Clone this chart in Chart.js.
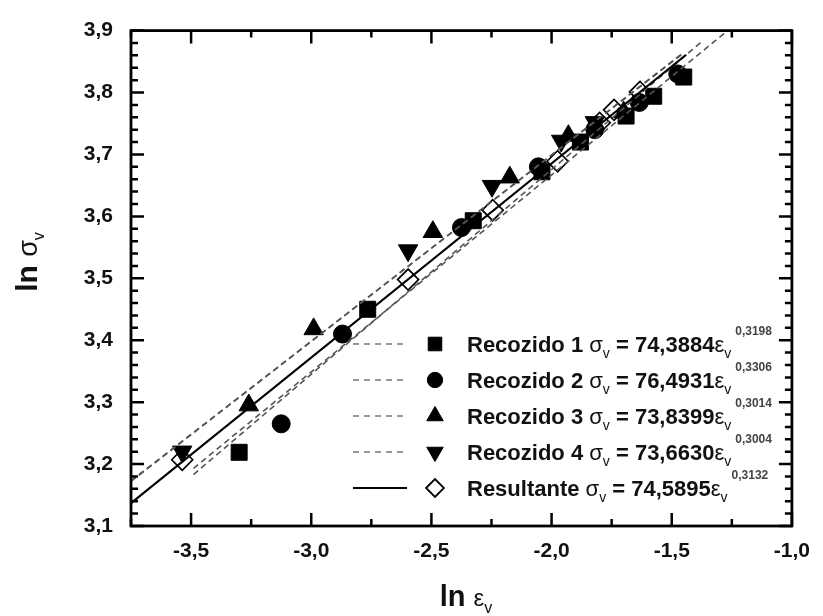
<!DOCTYPE html>
<html><head><meta charset="utf-8">
<script src="https://cdn.jsdelivr.net/npm/chart.js@4.4.1/dist/chart.umd.min.js"></script>
<style>html,body{margin:0;padding:0;background:#fff}canvas{display:block}</style>
</head><body>
<canvas id="c" width="823" height="616"></canvas>
<script>
// ---- data ----
const seriesNames = ['Recozido 1', 'Recozido 2', 'Recozido 3', 'Recozido 4', 'Resultante'];
const coefficients = ['74,3884', '76,4931', '73,8399', '73,6630', '74,5895'];
const exponents = ['0,3198', '0,3306', '0,3014', '0,3004', '0,3132'];

const rec1X = [-3.30, -2.765, -2.326, -2.04, -1.88, -1.69, -1.575, -1.45];
const rec1Y = [3.219, 3.450, 3.593, 3.672, 3.720, 3.762, 3.794, 3.825];
const rec2X = [-3.125, -2.87, -2.375, -2.055, -1.82, -1.635, -1.475];
const rec2Y = [3.265, 3.410, 3.582, 3.680, 3.740, 3.784, 3.830];
const rec3X = [-3.26, -2.99, -2.494, -2.174, -1.93, -1.70];
const rec3Y = [3.295, 3.418, 3.575, 3.663, 3.730, 3.768];
const rec4X = [-3.537, -2.597, -2.248, -1.96, -1.82];
const rec4Y = [3.220, 3.545, 3.649, 3.722, 3.752];
const resX = [-3.537, -2.597, -2.245, -1.975, -1.80, -1.74, -1.632];
const resY = [3.207, 3.498, 3.610, 3.689, 3.751, 3.772, 3.801];

// fitted lines (end points)
const fit1X = [-3.49, -1.28], fit1Y = [3.193, 3.896];
const fit2X = [-3.49, -1.37], fit2Y = [3.183, 3.884];
const fit3X = [-3.75, -1.45], fit3Y = [3.172, 3.865];
const fit4X = [-3.75, -1.45], fit4Y = [3.173, 3.864];
const fitResX = [-3.75, -1.44], fitResY = [3.137, 3.861];

const xTickValues = [-3.5, -3.0, -2.5, -2.0, -1.5, -1.0];
const xTickLabels = ['-3,5', '-3,0', '-2,5', '-2,0', '-1,5', '-1,0'];
const yTickValues = [3.1, 3.2, 3.3, 3.4, 3.5, 3.6, 3.7, 3.8, 3.9];
const yTickLabels = ['3,1', '3,2', '3,3', '3,4', '3,5', '3,6', '3,7', '3,8', '3,9'];

// ---- helpers ----
const pts = (xs, ys) => xs.map((v, i) => ({x: v, y: ys[i]}));
const F = 'Liberation Sans, Arial, sans-serif';

const lineDs = (xs, ys, dashed) => ({
  data: pts(xs, ys), showLine: true, pointRadius: 0, pointHoverRadius: 0,
  borderColor: dashed ? '#555' : '#000', borderWidth: dashed ? 1.6 : 2.2,
  borderDash: dashed ? [6, 4] : [], fill: false, tension: 0
});
const ptDs = (xs, ys, style, r, rot, open) => ({
  data: pts(xs, ys), showLine: false, pointStyle: style, pointRadius: r,
  pointHoverRadius: r, pointRotation: rot || 0,
  backgroundColor: open ? 'rgba(255,255,255,0)' : '#000',
  borderColor: '#000', borderWidth: open ? 1.7 : 1
});

const markerDefs = [
  {style: 'rect', r: 11.3, rot: 0, open: false},
  {style: 'circle', r: 9, rot: 0, open: false},
  {style: 'triangle', r: 11.2, rot: 0, open: false},
  {style: 'triangle', r: 11.2, rot: 180, open: false},
  {style: 'rectRot', r: 10.5, rot: 0, open: true}
];

// ---- plugin: frame with inward ticks ----
const frameTicks = {
  id: 'frameTicks',
  afterDraw(chart) {
    const {ctx, chartArea: a, scales: {x, y}} = chart;
    ctx.save();
    ctx.strokeStyle = '#000';
    ctx.lineWidth = 2.5;
    ctx.beginPath();
    for (let k = 0; k <= 11; k++) {
      const v = -3.75 + k * 0.25;
      const px = x.getPixelForValue(v);
      const L = (k % 2 === 1) ? 13 : 7;
      ctx.moveTo(px, a.bottom); ctx.lineTo(px, a.bottom - L);
      ctx.moveTo(px, a.top); ctx.lineTo(px, a.top + L);
    }
    for (let k = 0; k <= 40; k++) {
      const v = 3.1 + k * 0.02;
      const py = y.getPixelForValue(v);
      const L = (k % 5 === 0) ? 13 : 7;
      ctx.moveTo(a.left, py); ctx.lineTo(a.left + L, py);
      ctx.moveTo(a.right, py); ctx.lineTo(a.right - L, py);
    }
    ctx.stroke();
    ctx.lineWidth = 2.8;
    ctx.strokeRect(a.left, a.top, a.right - a.left, a.bottom - a.top);
    ctx.restore();
  }
};

// ---- plugin: legend with equations and axis titles ----
function drawRun(ctx, x, base, parts) {
  for (const p of parts) {
    ctx.font = p.font;
    ctx.fillStyle = p.color || '#111';
    ctx.fillText(p.t, x + (p.dx || 0), base + (p.dy || 0));
    x += ctx.measureText(p.t).width + (p.dx || 0);
  }
  return x;
}
const legendPlugin = {
  id: 'eqLegend',
  afterDraw(chart) {
    const {ctx} = chart;
    ctx.save();
    ctx.textBaseline = 'alphabetic';
    ctx.textAlign = 'left';
    const rowY0 = 344, rowStep = 36;
    seriesNames.forEach((name, i) => {
      const cy = rowY0 + i * rowStep;
      // line sample
      ctx.beginPath();
      if (i < 4) { ctx.setLineDash([6, 5]); ctx.strokeStyle = '#777'; ctx.lineWidth = 1.5; }
      else { ctx.setLineDash([]); ctx.strokeStyle = '#000'; ctx.lineWidth = 2.2; }
      ctx.moveTo(353, cy); ctx.lineTo(407, cy); ctx.stroke();
      ctx.setLineDash([]);
      // marker
      const m = markerDefs[i];
      ctx.fillStyle = m.open ? '#fff' : '#000';
      ctx.strokeStyle = '#000';
      ctx.lineWidth = m.open ? 1.8 : 1;
      Chart.helpers.drawPoint(ctx, {pointStyle: m.style, radius: m.r * 0.85, rotation: m.rot, borderWidth: ctx.lineWidth}, 435, cy);
      // text
      const base = cy + 8;
      const B = 'bold 22px ' + F, N = '22px ' + F, S = '14px ' + F;
      drawRun(ctx, 467, base, [
        {t: name + ' ', font: B},
        {t: 'σ', font: N},
        {t: 'v', font: S, dy: 6},
        {t: ' = ' + coefficients[i], font: B},
        {t: 'ε', font: N},
        {t: 'v', font: S, dy: 6},
        {t: exponents[i], font: 'bold 12px ' + F, dy: -17, dx: 4, color: '#444'}
      ]);
    });
    // axis titles
    ctx.fillStyle = '#111';
    ctx.font = 'bold 29px ' + F;
    const w1 = ctx.measureText('ln ').width;
    ctx.font = '24px ' + F; const w2 = ctx.measureText('ε').width;
    ctx.font = '16px ' + F; const w3 = ctx.measureText('v').width;
    let sx = 466 - (w1 + w2 + w3) / 2;
    drawRun(ctx, sx, 606, [
      {t: 'ln ', font: 'bold 29px ' + F},
      {t: 'ε', font: '24px ' + F},
      {t: 'v', font: '16px ' + F, dy: 7}
    ]);
    ctx.save();
    ctx.translate(37, 262);
    ctx.rotate(-Math.PI / 2);
    ctx.font = 'bold 30px ' + F;
    const v1 = ctx.measureText('ln ').width;
    ctx.font = '27px ' + F; const v2 = ctx.measureText('σ').width;
    ctx.font = '16px ' + F; const v3 = ctx.measureText('v').width;
    drawRun(ctx, -(v1 + v2 + v3) / 2, 0, [
      {t: 'ln ', font: 'bold 30px ' + F},
      {t: 'σ', font: '27px ' + F},
      {t: 'v', font: '16px ' + F, dy: 7}
    ]);
    ctx.restore();
    ctx.restore();
  }
};

const datasets = [
  lineDs(fitResX, fitResY, false),
  lineDs(fit1X, fit1Y, true),
  lineDs(fit2X, fit2Y, true),
  lineDs(fit3X, fit3Y, true),
  lineDs(fit4X, fit4Y, true),
  ptDs(resX, resY, markerDefs[4].style, markerDefs[4].r, markerDefs[4].rot, true),
  ptDs(rec4X, rec4Y, markerDefs[3].style, markerDefs[3].r, markerDefs[3].rot, false),
  ptDs(rec3X, rec3Y, markerDefs[2].style, markerDefs[2].r, markerDefs[2].rot, false),
  ptDs(rec2X, rec2Y, markerDefs[1].style, markerDefs[1].r, markerDefs[1].rot, false),
  ptDs(rec1X, rec1Y, markerDefs[0].style, markerDefs[0].r, markerDefs[0].rot, false)
];

new Chart(document.getElementById('c'), {
  type: 'scatter',
  data: {datasets},
  options: {
    responsive: false,
    animation: false,
    devicePixelRatio: 1,
    layout: {padding: {left: 0, right: 22, top: 25, bottom: 0}},
    plugins: {legend: {display: false}, tooltip: {enabled: false}},
    events: [],
    scales: {
      x: {
        type: 'linear', min: -3.75, max: -1.0,
        afterBuildTicks: s => { s.ticks = xTickValues.map(v => ({value: v})); },
        afterFit: s => { s.height = 90; },
        grid: {display: false, drawTicks: false},
        border: {display: false},
        ticks: {
          padding: 13, color: '#111', maxRotation: 0, autoSkip: false,
          font: {family: F, weight: 'bold', size: 21},
          callback: (v, i) => xTickLabels[i]
        }
      },
      y: {
        type: 'linear', min: 3.1, max: 3.9,
        afterBuildTicks: s => { s.ticks = yTickValues.map(v => ({value: v})); },
        afterFit: s => { s.width = 131; },
        grid: {display: false, drawTicks: false},
        border: {display: false},
        ticks: {
          padding: 18, color: '#111', autoSkip: false,
          font: {family: F, weight: 'bold', size: 21},
          callback: (v, i) => yTickLabels[i]
        }
      }
    }
  },
  plugins: [frameTicks, legendPlugin]
});
</script>
</body></html>
